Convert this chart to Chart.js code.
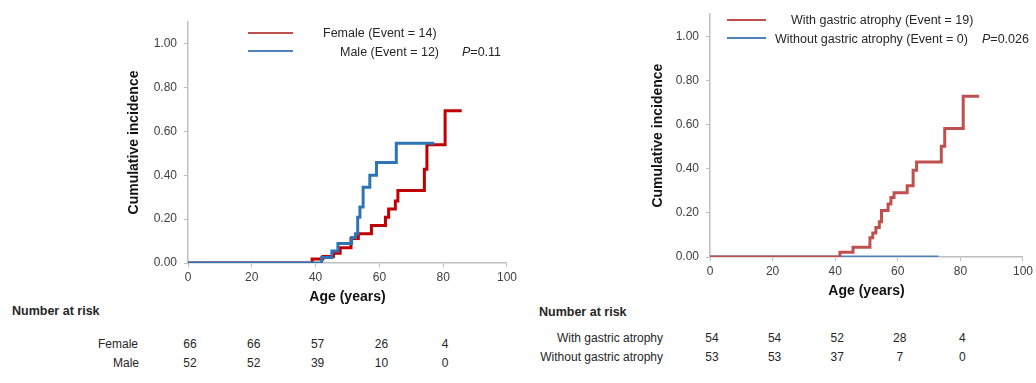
<!DOCTYPE html>
<html>
<head>
<meta charset="utf-8">
<script src="https://cdn.jsdelivr.net/npm/chart.js@4.4.1/dist/chart.umd.min.js"></script>
<style>
    body {
        margin: 0;
        background: #fff;
        font-family: "Liberation Sans", Arial, sans-serif;
        color: #262626;
    }
    .page {
        position: relative;
        width: 1036px;
        height: 383px;
        overflow: hidden;
    }
    .chart-box {
        position: absolute;
        top: 0;
    }
    .txt {
        position: absolute;
        white-space: nowrap;
        font-size: 12.5px;
        line-height: 14px;
        transform: translateY(-50%);
    }
    .right-al { text-align: right; }
    .bold { font-weight: bold; }
    .key {
        position: absolute;
        height: 2px;
    }
    .num {
        position: absolute;
        font-size: 12px;
        line-height: 14px;
        transform: translate(-50%, -50%);
    }
</style>
</head>
<body>
<div class="page" id="page">
    <div class="chart-box" style="left:122px; width:398px; height:310px;">
        <canvas id="sexChart"></canvas>
    </div>
    <div class="chart-box" style="left:646px; width:390px; height:304px;">
        <canvas id="atrophyChart"></canvas>
    </div>

    <!-- legend, left -->
    <div class="key" style="left:248px; top:32px; width:45px; background:#c0504d;"></div>
    <div class="key" style="left:248px; top:50px; width:45px; background:#4f81bd;"></div>
    <div class="txt" style="left:323px; top:33px;">Female (Event = 14)</div>
    <div class="txt" style="left:340px; top:52px;">Male (Event = 12)</div>
    <div class="txt" style="left:462px; top:52px;"><i>P</i>=0.11</div>

    <!-- legend, right -->
    <div class="key" style="left:727px; top:19px; width:39px; background:#c0504d;"></div>
    <div class="key" style="left:727px; top:37px; width:39px; background:#4f81bd;"></div>
    <div class="txt" style="left:791px; top:20px;">With gastric atrophy (Event = 19)</div>
    <div class="txt" style="left:775px; top:39px;">Without gastric atrophy (Event = 0)</div>
    <div class="txt" style="left:982px; top:39px;"><i>P</i>=0.026</div>

    <!-- number at risk labels -->
    <div class="txt bold" style="left:12px; top:311px;">Number at risk</div>
    <div class="txt right-al" style="right:898px; top:344px; font-size:12px;">Female</div>
    <div class="txt right-al" style="right:897px; top:363px; font-size:12px;">Male</div>
    <div class="txt bold" style="left:539px; top:312px;">Number at risk</div>
    <div class="txt right-al" style="right:373px; top:338px; font-size:12px;">With gastric atrophy</div>
    <div class="txt right-al" style="right:373px; top:357px; font-size:12px;">Without gastric atrophy</div>
</div>
<script>
    // step curves (age, cumulative incidence)
    const femaleAge = [0, 38.9, 42.3, 45.6, 47.7, 51.1, 53.4, 57.5, 61.9, 62.9, 65.0, 65.8, 74.1, 74.9, 80.6, 85.8];
    const femaleInc = [0, 0.018, 0.03, 0.045, 0.07, 0.112, 0.134, 0.171, 0.209, 0.246, 0.283, 0.331, 0.428, 0.54, 0.695, 0.695];
    const maleAge = [0, 41.9, 45.1, 47.0, 51.3, 52.5, 53.2, 53.9, 54.9, 57.0, 59.1, 65.3, 77.2];
    const maleInc = [0, 0.025, 0.055, 0.089, 0.116, 0.134, 0.209, 0.256, 0.346, 0.40, 0.459, 0.547, 0.547];

    const atrophyAge = [0, 41.5, 45.7, 51.1, 52.0, 53.0, 54.1, 54.8, 56.9, 57.8, 58.8, 63.0, 64.9, 66.0, 73.9, 75.0, 80.9, 86.0];
    const atrophyInc = [0, 0.022, 0.044, 0.087, 0.109, 0.134, 0.16, 0.211, 0.24, 0.269, 0.291, 0.323, 0.393, 0.43, 0.502, 0.582, 0.728, 0.728];
    const noAtrophyAge = [0, 73.0];
    const noAtrophyInc = [0, 0];

    const ageTicks = [0, 20, 40, 60, 80];
    const riskFemale = [66, 66, 57, 26, 4];
    const riskMale = [52, 52, 39, 10, 0];
    const riskAtrophy = [54, 54, 52, 28, 4];
    const riskNoAtrophy = [53, 53, 37, 7, 0];

    const FONT = '"Liberation Sans", Arial, sans-serif';
    const AXIS = '#bfbfbf';

    function pts(xs, ys) {
        return xs.map((x, i) => ({ x: x, y: ys[i] }));
    }

    function makeChart(id, sets, yWidth, pad) {
        return new Chart(document.getElementById(id), {
            type: 'line',
            data: { datasets: sets },
            options: {
                responsive: true,
                maintainAspectRatio: false,
                animation: false,
                layout: { padding: pad },
                plugins: { legend: { display: false }, tooltip: { enabled: false } },
                elements: { point: { radius: 0 } },
                scales: {
                    x: {
                        type: 'linear', min: 0, max: 100,
                        ticks: { stepSize: 20, color: '#404040', font: { family: FONT, size: 12 }, padding: 3 },
                        grid: { drawOnChartArea: false, tickLength: 4, color: AXIS },
                        border: { color: AXIS, width: 1.5 },
                        title: { display: true, text: 'Age (years)', color: '#111', font: { family: FONT, size: 14, weight: 'bold' } },
                        afterFit: s => { s.height = 47; }
                    },
                    y: {
                        min: 0, max: 1.1,
                        ticks: { stepSize: 0.2, color: '#404040', font: { family: FONT, size: 12 }, padding: 7,
                                 callback: v => v.toFixed(2) },
                        afterBuildTicks: s => { s.ticks = s.ticks.filter(t => t.value <= 1.0001); },
                        grid: { drawOnChartArea: false, tickLength: 4, color: AXIS },
                        border: { color: AXIS, width: 1.5 },
                        title: { display: true, text: 'Cumulative incidence', color: '#111', font: { family: FONT, size: 14, weight: 'bold' } },
                        afterFit: s => { s.width = yWidth; }
                    }
                }
            }
        });
    }

    const sexChart = makeChart('sexChart', [
        { label: 'Male', data: pts(maleAge, maleInc), borderColor: '#2e75b6', borderWidth: 3, stepped: true, order: 0 },
        { label: 'Female', data: pts(femaleAge, femaleInc), borderColor: '#c00000', borderWidth: 3, stepped: true, order: 1 }
    ], 66, { top: 22, right: 10, left: 0, bottom: 0 });

    const atrophyChart = makeChart('atrophyChart', [
        { label: 'With gastric atrophy', data: pts(atrophyAge, atrophyInc), borderColor: '#c0504d', borderWidth: 3, stepped: true, order: 0 },
        { label: 'Without gastric atrophy', data: pts(noAtrophyAge, noAtrophyInc), borderColor: '#4f81bd', borderWidth: 3, stepped: true, order: 1 }
    ], 64, { top: 5, right: 13, left: 0, bottom: 0 });

    // number-at-risk rows, lined up with the x ticks
    function riskRow(chart, offsetLeft, values, y) {
        const page = document.getElementById('page');
        values.forEach((v, i) => {
            const d = document.createElement('div');
            d.className = 'num';
            d.textContent = v;
            d.style.left = (offsetLeft + chart.scales.x.getPixelForValue(ageTicks[i]) + 2) + 'px';
            d.style.top = y + 'px';
            page.appendChild(d);
        });
    }
    riskRow(sexChart, 122, riskFemale, 344);
    riskRow(sexChart, 122, riskMale, 363);
    riskRow(atrophyChart, 646, riskAtrophy, 338);
    riskRow(atrophyChart, 646, riskNoAtrophy, 357);
</script>
</body>
</html>
